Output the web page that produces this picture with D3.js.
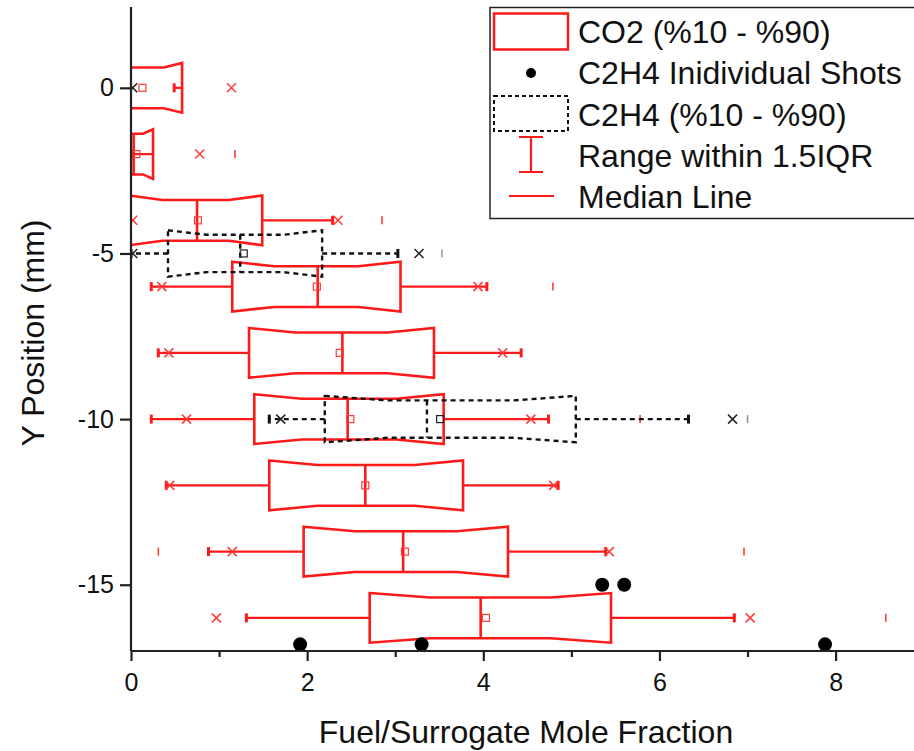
<!DOCTYPE html>
<html>
<head>
<meta charset="utf-8">
<script src="https://cdn.jsdelivr.net/npm/d3@7/dist/d3.min.js"></script>
<style>
  html, body { margin: 0; padding: 0; background: #fff; }
  svg { display: block; font-family: "Liberation Sans", Arial, sans-serif; }
</style>
</head>
<body>
<svg id="chart" width="914" height="751"></svg>
<script>
// ---------------- DATA ----------------
// CO2 boxes (10%-90%)
const co2Y      = [0, -2, -4, -6, -8, -10, -12, -14, -16];
const co2P10    = [-0.25, -0.2, -0.02, 1.15, 1.34, 1.40, 1.57, 1.96, 2.71];
const co2P90    = [0.58, 0.25, 1.49, 3.06, 3.44, 3.55, 3.77, 4.28, 5.45];
const co2Median = [-0.05, 0.03, 0.75, 2.12, 2.40, 2.46, 2.66, 3.09, 3.97];
const co2Mean   = [0.13, 0.06, 0.76, 2.11, 2.37, 2.49, 2.66, 3.11, 4.03];
const co2WhiskLo = [-0.4, -0.4, -0.3, 0.23, 0.31, 0.23, 0.40, 0.88, 1.31];
const co2WhiskHi = [0.49, 0.02, 2.29, 4.04, 4.43, 4.74, 4.85, 5.39, 6.85];
const co2XLo    = [null, null, 0.02, 0.35, 0.43, 0.63, 0.44, 1.15, 0.97];
const co2XHi    = [1.14, 0.78, 2.35, 3.94, 4.22, 4.54, 4.80, 5.43, 7.03];
const co2MinBar = [null, null, null, null, null, null, null, 0.31, null];
const co2MaxBar = [null, 1.18, 2.85, 4.79, null, 5.78, null, 6.96, 8.57];

// C2H4 boxes (10%-90%)
const c2Y       = [-5, -10];
const c2P10     = [0.42, 2.20];
const c2P90     = [2.17, 5.05];
const c2Median  = [1.24, 3.36];
const c2Mean    = [1.28, 3.51];
const c2WhiskLo = [0.0, 1.57];
const c2WhiskHi = [3.03, 6.33];
const c2XLo     = [0.02, 1.70];
const c2XHi     = [3.27, 6.83];
const c2MaxBar  = [3.53, 7.00];
// extra C2H4 markers at y = 0
const c2ExtraXMarkX = [0.02];
const c2ExtraXMarkY = [0];

// C2H4 individual shots
const shotX = [5.35, 5.60, 1.92, 3.30, 7.88];
const shotY = [-15, -15, -16.8, -16.8, -16.8];

// Axes
const xTicks = [0, 2, 4, 6, 8];
const xMinorTicks = [1, 3, 5, 7];
const yTicks = [0, -5, -10, -15];

const legendLabels = ["CO2 (%10 - %90)", "C2H4 Inidividual Shots", "C2H4 (%10 - %90)", "Range within 1.5IQR", "Median Line"];

// ---------------- CHART ----------------
(function () {
const svg = d3.select("#chart");
const RED = "#ff1a1a";
const pL = 131, pR = 914, pT = 7, pB = 651;

const x = d3.scaleLinear().domain([0, 8.89]).range([pL, pR]);
const y = d3.scaleLinear().domain([-17, 2.44]).range([pB, pT]);

svg.append("rect").attr("width", 914).attr("height", 751).attr("fill", "#fff");

svg.append("defs").append("clipPath").attr("id", "plotclip")
  .append("rect").attr("x", pL).attr("y", pT).attr("width", pR - pL).attr("height", pB - pT);

const g = svg.append("g").attr("clip-path", "url(#plotclip)");

const NOTCH = 4.5, SLANT = 0.25;
function boxPath(p10, p90, yv, hUnits) {
  const x0 = x(p10), x1 = x(p90), yc = y(yv);
  const h = (y(yv - hUnits / 2) - y(yv + hUnits / 2)) / 2;
  const s = (x1 - x0) * SLANT;
  const p = d3.path();
  p.moveTo(x0, yc - h);
  p.lineTo(x0 + s, yc - h + NOTCH);
  p.lineTo(x1 - s, yc - h + NOTCH);
  p.lineTo(x1, yc - h);
  p.lineTo(x1, yc + h);
  p.lineTo(x1 - s, yc + h - NOTCH);
  p.lineTo(x0 + s, yc + h - NOTCH);
  p.lineTo(x0, yc + h);
  p.closePath();
  return p.toString();
}
function xMark(sel, xv, yv, color, size, sw) {
  const cx = x(xv), cy = y(yv), r = size / 2;
  sel.append("path").attr("d", `M${cx - r},${cy - r}L${cx + r},${cy + r}M${cx - r},${cy + r}L${cx + r},${cy - r}`)
    .attr("stroke", color).attr("stroke-width", sw).attr("fill", "none");
}
function barMark(sel, xv, yv, color, len, sw) {
  sel.append("line").attr("x1", x(xv)).attr("x2", x(xv)).attr("y1", y(yv) - len / 2).attr("y2", y(yv) + len / 2)
    .attr("stroke", color).attr("stroke-width", sw);
}
function drawBox(sel, o) {
  const yc = y(o.y);
  const h = (y(o.y - o.h / 2) - y(o.y + o.h / 2)) / 2;
  const dash = o.dash || null;
  [[o.p10, o.wLo], [o.p90, o.wHi]].forEach(([from, to]) => {
    if (to == null) return;
    sel.append("line").attr("x1", x(from)).attr("x2", x(to)).attr("y1", yc).attr("y2", yc)
      .attr("stroke", o.color).attr("stroke-width", o.wsw).attr("stroke-dasharray", dash);
    sel.append("line").attr("x1", x(to)).attr("x2", x(to)).attr("y1", yc - 4.5).attr("y2", yc + 4.5)
      .attr("stroke", o.color).attr("stroke-width", 3);
  });
  sel.append("path").attr("d", boxPath(o.p10, o.p90, o.y, o.h))
    .attr("fill", "none").attr("stroke", o.color).attr("stroke-width", o.bsw)
    .attr("stroke-dasharray", dash).attr("stroke-linejoin", "miter");
  sel.append("line").attr("x1", x(o.med)).attr("x2", x(o.med)).attr("y1", yc - h + NOTCH).attr("y2", yc + h - NOTCH)
    .attr("stroke", o.color).attr("stroke-width", o.bsw).attr("stroke-dasharray", dash);
  sel.append("rect").attr("x", x(o.mean) - 3.5).attr("y", yc - 3.5).attr("width", 7).attr("height", 7)
    .attr("fill", "none").attr("stroke", o.mcolor).attr("stroke-width", 1.2);
  if (o.xLo != null) xMark(sel, o.xLo, o.y, o.mcolor, 9, 1.5);
  if (o.xHi != null) xMark(sel, o.xHi, o.y, o.mcolor, 9, 1.5);
  if (o.minBar != null) barMark(sel, o.minBar, o.y, o.mcolor, 8, 1.6);
  if (o.maxBar != null) barMark(sel, o.maxBar, o.y, o.barColor || o.mcolor, 8, 1.6);
}

co2Y.forEach((yv, i) => {
  drawBox(g, { y: yv, h: 1.5, p10: co2P10[i], p90: co2P90[i], med: co2Median[i], mean: co2Mean[i],
    wLo: co2WhiskLo[i], wHi: co2WhiskHi[i], xLo: co2XLo[i], xHi: co2XHi[i],
    minBar: co2MinBar[i], maxBar: co2MaxBar[i], color: RED, mcolor: "#ff3b3b", bsw: 2.6, wsw: 2.2 });
});
c2Y.forEach((yv, i) => {
  drawBox(g, { y: yv, h: 1.4, p10: c2P10[i], p90: c2P90[i], med: c2Median[i], mean: c2Mean[i],
    wLo: c2WhiskLo[i], wHi: c2WhiskHi[i], xLo: c2XLo[i], xHi: c2XHi[i],
    minBar: null, maxBar: c2MaxBar[i], color: "#111", mcolor: "#222", barColor: "#999", bsw: 2.4, wsw: 2.4, dash: "5,4" });
});
c2ExtraXMarkX.forEach((xv, i) => xMark(g, xv, c2ExtraXMarkY[i], "#222", 9, 1.5));

g.selectAll("circle.shot").data(shotX).enter().append("circle").attr("class", "shot")
  .attr("cx", (d) => x(d)).attr("cy", (d, i) => y(shotY[i])).attr("r", 7).attr("fill", "#000");

// ---------------- AXES ----------------
const axisColor = "#222";
const xAxis = svg.append("g").attr("transform", `translate(0,${pB})`)
  .call(d3.axisBottom(x).tickValues(xTicks).tickSize(10).tickPadding(12).tickFormat((d) => String(d)));
svg.append("g").attr("transform", `translate(0,${pB})`)
  .call(d3.axisBottom(x).tickValues(xMinorTicks).tickSize(6).tickFormat(""))
  .call((s) => s.select(".domain").remove());
const yAxis = svg.append("g").attr("transform", `translate(${pL},0)`)
  .call(d3.axisLeft(y).tickValues(yTicks).tickSize(11).tickPadding(6).tickFormat((d) => String(d)));
svg.selectAll(".domain").attr("stroke", axisColor).attr("stroke-width", 2.2);
svg.selectAll(".tick line").attr("stroke", axisColor).attr("stroke-width", 2.2);
svg.selectAll(".tick text").attr("font-size", 25).attr("fill", "#111")
  .attr("font-family", '"Liberation Sans", Arial, sans-serif');
xAxis.select(".domain").attr("d", `M${pL},0H${pR}`);
yAxis.select(".domain").attr("d", `M0,${pT}V${pB}`);

svg.append("text").attr("x", 526).attr("y", 743).attr("text-anchor", "middle")
  .attr("font-size", 32).attr("fill", "#111").text("Fuel/Surrogate Mole Fraction");
svg.append("text").attr("transform", "translate(44,333) rotate(-90)").attr("text-anchor", "middle")
  .attr("font-size", 32).attr("fill", "#111").text("Y Position (mm)");

// ---------------- LEGEND ----------------
const lg = svg.append("g");
lg.append("rect").attr("x", 490).attr("y", 7.5).attr("width", 440).attr("height", 211)
  .attr("fill", "#fff").attr("stroke", "#222").attr("stroke-width", 1.5);
const rowBase = (i) => 42.7 + i * 41.4;
const symCx = 531;
lg.append("rect").attr("x", 494).attr("y", 13.5).attr("width", 74).attr("height", 36)
  .attr("fill", "none").attr("stroke", RED).attr("stroke-width", 2.5);
lg.append("circle").attr("cx", symCx).attr("cy", 73).attr("r", 5).attr("fill", "#000");
lg.append("rect").attr("x", 494).attr("y", 96).attr("width", 74).attr("height", 35)
  .attr("fill", "none").attr("stroke", "#111").attr("stroke-width", 2).attr("stroke-dasharray", "4,3");
lg.append("path").attr("d", `M${symCx},137V172M${symCx - 12},137H${symCx + 12}M${symCx - 12},172H${symCx + 12}`)
  .attr("stroke", RED).attr("stroke-width", 2.2).attr("fill", "none");
lg.append("line").attr("x1", 509).attr("x2", 554).attr("y1", 196).attr("y2", 196)
  .attr("stroke", RED).attr("stroke-width", 2.2);
legendLabels.forEach((t, i) => {
  lg.append("text").attr("x", 578).attr("y", rowBase(i)).attr("font-size", 32).attr("fill", "#111").text(t);
});
})();
</script>
</body>
</html>
